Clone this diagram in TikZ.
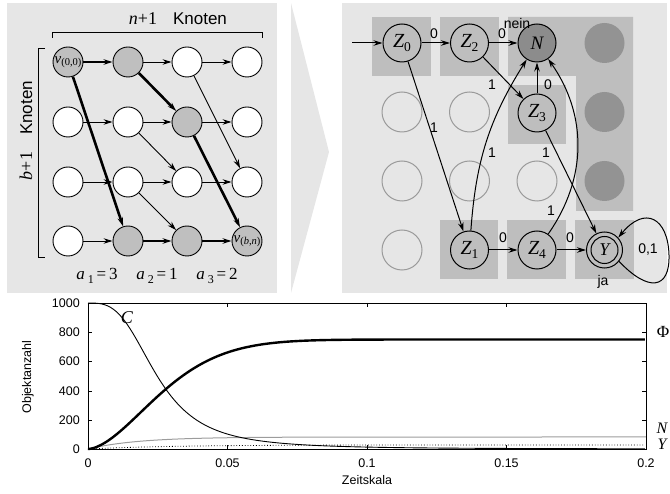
\documentclass[tikz,border=0pt]{standalone}
\usepackage{fontspec}
\setmainfont{Liberation Sans}
\newfontfamily\tmr{Liberation Serif}
\usetikzlibrary{arrows.meta}

\definecolor{panelgray}{HTML}{E6E6E6}
\definecolor{sqgray}{HTML}{BEBEBE}
\definecolor{nodegray}{HTML}{BFBFBF}
\definecolor{ngray}{HTML}{8C8C8C}
\definecolor{dgray}{HTML}{939393}
\definecolor{egray}{HTML}{9A9A9A}
\definecolor{curvegray}{HTML}{9C9C9C}

\newcommand\fs[1]{\fontsize{#1}{#1}\selectfont}
\newcommand\mi[1]{{\tmr\itshape #1}}
\newcommand\lowsub[1]{\raisebox{-0.4ex}{#1}}
\newcommand\zlab[2]{\mi{#1}\lowsub{\tmr\fs{13.5}#2}}

\begin{document}
\begin{tikzpicture}[x=1pt,y=-1pt,
  >={Stealth[length=9pt,width=5.5pt]},
  lnode/.style={circle,draw,line width=0.9pt,minimum size=30pt,inner sep=0pt,fill=white},
  lgray/.style={lnode,fill=nodegray},
  thinarr/.style={->,line width=0.9pt},
  thickarr/.style={->,line width=2.6pt},
  zst/.style={circle,draw,line width=1pt,minimum size=38pt,inner sep=0pt,fill=sqgray,font=\fs{20}},
  emptyc/.style={circle,draw=egray,line width=1pt,minimum size=40pt,inner sep=0pt},
  darkc/.style={circle,fill=dgray,minimum size=40pt,inner sep=0pt},
  rarr/.style={->,line width=1pt},
  elab/.style={font=\fs{14},inner sep=0pt},
  tick/.style={line width=0.8pt},
  ticklab/.style={font=\fs{12.5},inner sep=0pt}]

\useasboundingbox (0,0) rectangle (670,494);

% ---------- background panels ----------
\fill[panelgray] (7,3) rectangle (277,293);
\fill[panelgray] (291,3) -- (329,152) -- (291,293) -- cycle;
\fill[panelgray] (342,3) rectangle (667,293);

% ---------- left panel: grid graph ----------
\draw[line width=0.8pt] (52,38) -- (52,32) -- (262,32) -- (262,38);
\draw[line width=0.8pt] (45,48) -- (38,48) -- (38,257) -- (45,257);
\node[font=\fs{18},anchor=base] (nlab) at (143,25) {\mi{n}\tmr+1};
\node[font=\fs{17},anchor=base] (klab) at (200,25) {Knoten};
\node[font=\fs{18},anchor=base,rotate=90] (blab) at (32,166) {\mi{b}\tmr+1};
\node[font=\fs{17},anchor=base,rotate=90] (klab2) at (32,108) {Knoten};

\node[lgray] (L00) at (68,62) {\mi{\fs{15}v}\lowsub{\tmr\fs{10.5}(0,0)}};
\node[lgray] (L01) at (128,62) {};
\node[lnode] (L02) at (187,62) {};
\node[lnode] (L03) at (247,62) {};
\node[lnode] (L10) at (68,122) {};
\node[lnode] (L11) at (128,122) {};
\node[lgray] (L12) at (187,122) {};
\node[lnode] (L13) at (247,122) {};
\node[lnode] (L20) at (68,182) {};
\node[lnode] (L21) at (128,182) {};
\node[lnode] (L22) at (187,182) {};
\node[lnode] (L23) at (247,182) {};
\node[lnode] (L30) at (68,241) {};
\node[lgray] (L31) at (128,241) {};
\node[lgray] (L32) at (187,241) {};
\node[lgray] (L33) at (247,241) {\mi{\fs{15}v}\lowsub{\tmr\fs{10.5}(\mi{b},\mi{n})}};

% horizontal arrows
\draw[thickarr] (L00) -- (L01);
\draw[thinarr] (L01) -- (L02);
\draw[thinarr] (L02) -- (L03);
\draw[thinarr] (L10) -- (L11);
\draw[thinarr] (L11) -- (L12);
\draw[thinarr] (L12) -- (L13);
\draw[thinarr] (L20) -- (L21);
\draw[thinarr] (L21) -- (L22);
\draw[thinarr] (L22) -- (L23);
\draw[thinarr] (L30) -- (L31);
\draw[thickarr] (L31) -- (L32);
\draw[thickarr] (L32) -- (L33);
% diagonal arrows
\draw[thickarr] (L00) -- (L31);
\draw[thickarr] (L01) -- (L12);
\draw[thickarr] (L12) -- (L33);
\draw[thinarr] (L02) -- (L23);
\draw[thinarr] (L11) -- (L22);
\draw[thinarr] (L21) -- (L32);

\node[font=\fs{17},anchor=base] (a1) at (97,280) {\mi{a}\,\lowsub{\tmr\fs{12}1}\,\tmr=\,3};
\node[font=\fs{17},anchor=base] (a2) at (157,280) {\mi{a}\,\lowsub{\tmr\fs{12}2}\,\tmr=\,1};
\node[font=\fs{17},anchor=base] (a3) at (217,280) {\mi{a}\,\lowsub{\tmr\fs{12}3}\,\tmr=\,2};

% ---------- right panel: automaton ----------
\fill[sqgray] (372,17) rectangle (431,76);
\fill[sqgray] (440,17) rectangle (499,76);
\fill[sqgray] (508,17) -- (633,17) -- (633,211) -- (576,211) -- (576,76) -- (508,76) -- cycle;
\fill[sqgray] (508,85) rectangle (566,144);
\fill[sqgray] (440,220) rectangle (498,279);
\fill[sqgray] (507,220) rectangle (566,279);
\fill[sqgray] (575,220) rectangle (634,279);

\node[emptyc] (E10) at (402,112) {};
\node[emptyc] (E11) at (469.5,112) {};
\node[emptyc] (E20) at (402,181) {};
\node[emptyc] (E21) at (469.5,181) {};
\node[emptyc] (E22) at (537,181) {};
\node[emptyc] (E30) at (402,250) {};
\node[darkc] (D0) at (604.5,43) {};
\node[darkc] (D1) at (604.5,112) {};
\node[darkc] (D2) at (604.5,181) {};

\node[zst] (Z0) at (402,43) {\zlab{Z}{0}};
\node[zst] (Z2) at (469.5,43) {\zlab{Z}{2}};
\node[zst,fill=ngray] (N) at (537,43) {\mi{\fs{19}N}};
\node[zst] (Z3) at (537,113) {\zlab{Z}{3}};
\node[zst] (Z1) at (469.5,250) {\zlab{Z}{1}};
\node[zst] (Z4) at (537,250) {\zlab{Z}{4}};
\node[zst,minimum size=36pt] (Y) at (604.5,250) {\mi{\fs{18}Y}};
\draw[line width=1pt] (Y.center) circle (13.5pt);

\coordinate (init) at (352,43);
\draw[rarr] (init) -- (Z0);
\draw[rarr] (Z0) -- (Z2);
\draw[rarr] (Z2) -- (N);
\draw[rarr] (Z0) -- (Z1);
\draw[rarr] (Z2) -- (Z3);
\draw[rarr] (Z3) -- (N);
\draw[rarr] (Z1) to[bend left=14] (N);
\draw[rarr] (Z3) -- (Y);
\draw[rarr] (Z4) to[bend right=35] (N);
\draw[rarr] (Z1) -- (Z4);
\draw[rarr] (Z4) -- (Y);
\draw[rarr] (Y.-38) .. controls (648,292) and (670,290) .. (669,255)
                   .. controls (668,218) and (645,205) .. (Y.42);

\node[elab] (l02) at (434,34) {0};
\node[elab] (l2n) at (502,34) {0};
\node[elab] (l01) at (434,128) {1};
\node[elab] (l23) at (492,85) {1};
\node[elab] (l3n) at (548,85) {0};
\node[elab] (l1n) at (492,153) {1};
\node[elab] (l3y) at (546,153) {1};
\node[elab] (l4n) at (551,211) {1};
\node[elab] (l14) at (503,238) {0};
\node[elab] (l4y) at (570,238) {0};
\node[elab] (lyy) at (648,250) {0,1};
\node[font=\fs{14},inner sep=0pt] (nein) at (517,23) {nein};
\node[font=\fs{14},inner sep=0pt] (ja) at (603,282) {ja};

% ---------- bottom: time course plot ----------
\draw[curvegray,line width=1pt] (88,449) -- plot[domain=0.0002:0.2,samples=120]
  ({88+2790*\x},{449-12*(1-exp(-\x/0.018))});
\draw[dotted,line width=0.8pt] (88,449) -- plot[domain=0.0002:0.2,samples=80]
  ({88+2790*\x},{449-4.1*(1-exp(-\x/0.03))});
\draw[line width=0.9pt] (88,303) -- plot[domain=0.0002:0.2,samples=200]
  ({88+2790*\x},{449-146/(1+pow(\x/0.0248,3.1))});
\draw[line width=2.4pt] (88,449) -- plot[domain=0.0002:0.2,samples=200]
  ({88+2790*\x},{449-109.5*(1-exp(-pow(\x/0.032,1.7)))});

\draw[line width=0.9pt] (88,303) rectangle (646,449);
\foreach \xv/\xp in {0.05/227.5,0.1/367,0.15/506.5}{
  \draw[tick] (\xp,449) -- (\xp,445);
  \draw[tick] (\xp,303) -- (\xp,307);
}
\foreach \yp in {332,361,391,420}{
  \draw[tick] (88,\yp) -- (92,\yp);
  \draw[tick] (646,\yp) -- (642,\yp);
}
\foreach \yv/\yp [count=\i] in {0/449,200/420,400/391,600/361,800/332,1000/303}{
  \node[ticklab,anchor=east] (yl\i) at (80,\yp) {\yv};
}
\foreach \xv/\xp [count=\i] in {0/88,0.05/227.5,0.1/367,0.15/506.5,0.2/646}{
  \node[ticklab] (xl\i) at (\xp,463) {\xv};
}
\node[ticklab,rotate=90] (ylab) at (28,377) {Objektanzahl};
\node[ticklab] (xlab) at (367,480) {Zeitskala};
\node[inner sep=0pt,font=\fs{18}] (clab) at (127,318) {\mi{C}};
\node[inner sep=0pt,font=\fs{17}] (philab) at (663,332) {\tmr Φ};
\node[inner sep=0pt,font=\fs{16}] (nlab2) at (662,428) {\mi{N}};
\node[inner sep=0pt,font=\fs{16}] (ylab2) at (662,444) {\mi{Y}};
\end{tikzpicture}
\end{document}
